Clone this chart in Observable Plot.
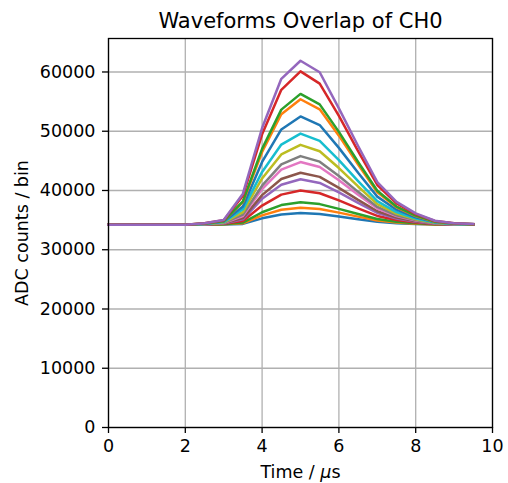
<!DOCTYPE html>
<html>
<head>
<meta charset="utf-8">
<script src="https://cdn.jsdelivr.net/npm/d3@7"></script>
<script src="https://cdn.jsdelivr.net/npm/@observablehq/plot@0.6"></script>
<style>
  html, body { margin: 0; padding: 0; background: #ffffff; }
  #chart { width: 508px; height: 483px; }
</style>
</head>
<body>
<div id="chart"></div>
<script>
// ---- data ----
const titleText = "Waveforms Overlap of CH0";
const xLabel = "Time / μs";
const yLabel = "ADC counts / bin";
const xTicks = [0, 2, 4, 6, 8, 10];
const yTicks = [0, 10000, 20000, 30000, 40000, 50000, 60000];
const times = [0, 0.5, 1, 1.5, 2, 2.5, 3, 3.5, 4, 4.5, 5, 5.5, 6, 6.5, 7, 7.5, 8, 8.5, 9, 9.5];

const wf01 = [34200,34200,34200,34200,34200,34200,34260,34360,35300,35960,36200,36040,35620,35160,34720,34480,34340,34250,34220,34210];
const wf02 = [34200,34200,34200,34200,34200,34230,34290,34460,35800,36750,37100,36870,36260,35590,34950,34610,34400,34270,34230,34215];
const wf03 = [34200,34200,34200,34200,34200,34240,34310,34580,36330,37540,38000,37700,36900,36020,35190,34730,34470,34300,34240,34220];
const wf04 = [34200,34200,34200,34200,34200,34260,34370,34840,37450,39300,40000,39540,38320,36980,35710,35010,34610,34350,34260,34230];
const wf05 = [34200,34200,34200,34200,34200,34280,34430,35120,38590,40980,41900,41280,39670,37900,36200,35280,34740,34390,34280,34240];
const wf06 = [34200,34200,34200,34200,34200,34290,34460,35340,39220,41940,43000,42300,40450,38420,36490,35430,34820,34420,34290,34240];
const wf07 = [34200,34200,34200,34200,34200,34310,34520,35680,40240,43530,44800,43950,41730,39290,36960,35680,34940,34470,34310,34250];
const wf08 = [34200,34200,34200,34200,34200,34320,34550,35940,40810,44410,45800,44870,42440,39770,37220,35820,35010,34490,34320,34260];
const wf09 = [34200,34200,34200,34200,34200,34340,34610,36360,42030,46080,47700,46620,43790,40680,37710,36090,35150,34540,34340,34270];
const wf10 = [34200,34200,34200,34200,34200,34350,34660,36820,43130,47750,49600,48370,45130,41590,38200,36360,35280,34590,34350,34280];
const wf11 = [34200,34200,34200,34200,34200,34380,34750,37310,44810,50300,52500,51040,47190,42980,38960,36760,35480,34660,34380,34290];
const wf12 = [34200,34200,34200,34200,34200,34410,34840,38020,46500,52860,55400,53700,49250,44380,39710,37170,35680,34730,34410,34310];
const wf13 = [34200,34200,34200,34200,34200,34420,34860,38180,47020,53650,56300,54530,49890,44810,39950,37290,35750,34750,34420,34310];
const wf14 = [34200,34200,34200,34200,34200,34460,34980,39120,49480,56990,60100,58030,52590,46630,40930,37830,36010,34850,34460,34330];
const wf15 = [34200,34200,34200,34200,34200,34480,35030,39460,50540,58850,61900,59960,53870,47500,41400,38080,36140,34890,34480,34340];

const seriesList = [wf01, wf02, wf03, wf04, wf05, wf06, wf07, wf08, wf09, wf10, wf11, wf12, wf13, wf14, wf15];

// ---- styles ----
const tab10 = ["#1f77b4","#ff7f0e","#2ca02c","#d62728","#9467bd","#8c564b","#e377c2","#7f7f7f","#bcbd22","#17becf"];
const FONT = "DejaVu Sans";

const lineMarks = seriesList.map((vals, i) =>
  Plot.line(times.map((t, j) => ({t, v: vals[j]})), {
    x: "t", y: "v",
    stroke: tab10[i % tab10.length],
    strokeWidth: 2.5,
    strokeLinejoin: "round",
    strokeLinecap: "square"
  })
);

const chart = Plot.plot({
  width: 508,
  height: 483,
  marginLeft: 108,
  marginRight: 16,
  marginTop: 38,
  marginBottom: 56,
  style: { fontFamily: FONT, fontSize: "17.5px", color: "#000", background: "#fff" },
  x: { domain: [0, 10] },
  y: { domain: [0, 65650] },
  marks: [
    Plot.gridX(xTicks, { stroke: "#b0b0b0", strokeOpacity: 1, strokeWidth: 1.3 }),
    Plot.gridY(yTicks, { stroke: "#b0b0b0", strokeOpacity: 1, strokeWidth: 1.3 }),
    ...lineMarks,
    Plot.frame({ stroke: "#000", strokeWidth: 1.3 }),
    Plot.axisX(xTicks, { tickSize: 6, tickPadding: 6, label: null, fontSize: 17.5, strokeWidth: 1.3, tickFormat: d => String(d) }),
    Plot.axisY(yTicks, { tickSize: 6, tickPadding: 7, label: null, fontSize: 17.5, strokeWidth: 1.3, tickFormat: d => String(d) }),
    Plot.text([titleText], { text: d => d, frameAnchor: "top", textAnchor: "middle", lineAnchor: "bottom", dy: -10.5, fontSize: 21, fill: "#000" }),
    Plot.text([xLabel], { text: d => d, frameAnchor: "bottom", textAnchor: "middle", lineAnchor: "bottom", dy: 50, fontSize: 17.5, fill: "#000", className: "xlab" }),
    Plot.text([yLabel], { text: d => d, frameAnchor: "left", textAnchor: "middle", lineAnchor: "middle", rotate: -90, dx: -86, fontSize: 17.5, fill: "#000" })
  ]
});

document.getElementById("chart").appendChild(chart);

// italic mu as in the mathtext label
const xl = chart.querySelector(".xlab text");
if (xl) {
  xl.textContent = "";
  const parts = [["Time / ", null], ["μ", "italic"], ["s", null]];
  for (const [s, st] of parts) {
    const ts = document.createElementNS("http://www.w3.org/2000/svg", "tspan");
    ts.textContent = s;
    if (st) ts.setAttribute("font-style", st);
    xl.appendChild(ts);
  }
}
</script>
</body>
</html>
